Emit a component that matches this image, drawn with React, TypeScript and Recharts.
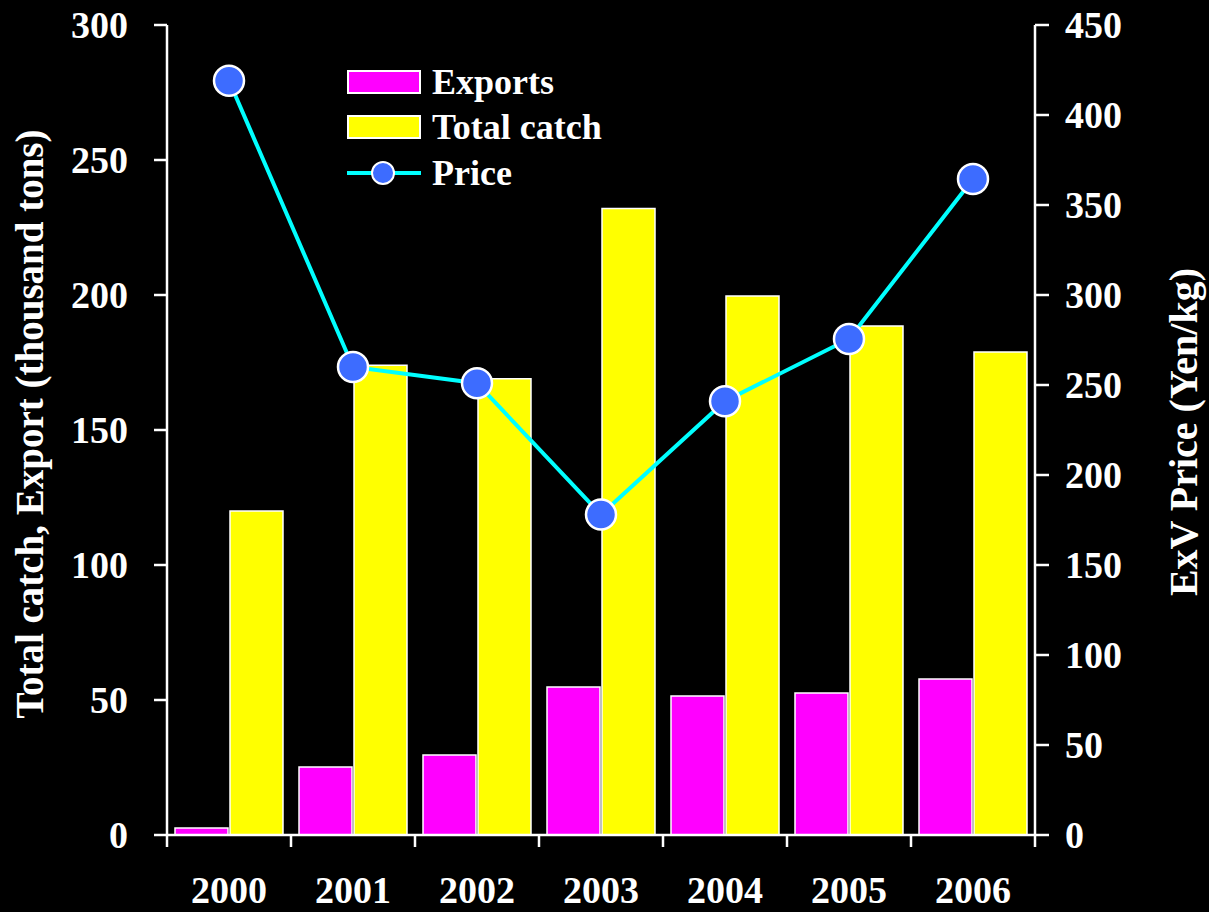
import React from 'react';
import { ComposedChart, Bar, Line, XAxis, YAxis, Legend } from 'recharts';

// Values
const years = ['2000', '2001', '2002', '2003', '2004', '2005', '2006'];
const exportsTons = [2.6, 25.2, 29.6, 54.8, 51.5, 52.6, 57.8];
const totalCatch = [120, 174, 169, 232, 199.6, 188.5, 178.9];
const priceYen = [419, 260, 251, 178, 241, 275.6, 364.4];

const leftTicks = [0, 50, 100, 150, 200, 250, 300];
const rightTicks = [0, 50, 100, 150, 200, 250, 300, 350, 400, 450];

const FONT = '"Liberation Serif", "Times New Roman", serif';
const MAGENTA = '#ff00ff';
const YELLOW = '#ffff00';
const CYAN = '#00ffff';
const DOT = '#3d6cff';

const chartData = years.map((year, i) => ({
  year,
  exports: exportsTons[i],
  total: totalCatch[i],
  price: priceYen[i],
}));

const tickStyle = { fill: '#ffffff', fontSize: 38, fontWeight: 700, fontFamily: FONT };

// x ticks sit on category boundaries, labels in the middle
function YearTick(props: any) {
  const { x, y, payload, index, visibleTicksCount } = props;
  const half = payload && payload.offset ? payload.offset : 62;
  const last = index === visibleTicksCount - 1;
  return (
    <g>
      <line x1={x - half} x2={x - half} y1={y - 41} y2={y - 29} stroke="#fff" strokeWidth={2.5} />
      {last && <line x1={x + half} x2={x + half} y1={y - 41} y2={y - 29} stroke="#fff" strokeWidth={2.5} />}
      <text x={x} y={y} dy="0.71em" textAnchor="middle" {...tickStyle}>
        {payload.value}
      </text>
    </g>
  );
}

function LeftTitle(props: any) {
  const vb = props.viewBox || { x: 0, y: 25, width: 167, height: 810 };
  const cy = vb.y + vb.height / 2 - 6;
  return (
    <text
      x={43}
      y={cy}
      transform={`rotate(-90, 43, ${cy})`}
      textAnchor="middle"
      fill="#fff"
      fontSize={39}
      fontWeight={700}
      fontFamily={FONT}
    >
      Total catch, Export (thousand tons)
    </text>
  );
}

function RightTitle(props: any) {
  const vb = props.viewBox || { x: 1035, y: 25, width: 174, height: 810 };
  const cx = vb.x + 162;
  const cy = vb.y + vb.height / 2 + 2;
  return (
    <text
      x={cx}
      y={cy}
      transform={`rotate(-90, ${cx}, ${cy})`}
      textAnchor="middle"
      fill="#fff"
      fontSize={40}
      fontWeight={700}
      fontFamily={FONT}
    >
      ExV Price (Yen/kg)
    </text>
  );
}

function LegendBox() {
  const row: React.CSSProperties = { display: 'flex', alignItems: 'center', height: 45.5 };
  const label: React.CSSProperties = {
    color: '#fff',
    fontSize: 36,
    fontWeight: 700,
    fontFamily: FONT,
    lineHeight: 1,
    marginLeft: 11,
    whiteSpace: 'nowrap',
  };
  return (
    <div>
      <div style={row}>
        <svg width={74} height={30}>
          <rect x={1} y={4} width={72} height={22} fill={MAGENTA} stroke="#fff" strokeWidth={2} />
        </svg>
        <span style={label}>Exports</span>
      </div>
      <div style={row}>
        <svg width={74} height={30}>
          <rect x={1} y={4} width={72} height={22} fill={YELLOW} stroke="#fff" strokeWidth={2} />
        </svg>
        <span style={label}>Total catch</span>
      </div>
      <div style={row}>
        <svg width={74} height={30}>
          <line x1={0} x2={74} y1={15} y2={15} stroke={CYAN} strokeWidth={4} />
          <circle cx={36} cy={15} r={11} fill={DOT} stroke="#fff" strokeWidth={2} />
        </svg>
        <span style={label}>Price</span>
      </div>
    </div>
  );
}

export default function App() {
  return (
    <div style={{ position: 'absolute', left: 0, top: 0, width: 1209, height: 912, background: '#000' }}>
      <ComposedChart
        width={1209}
        height={912}
        data={chartData}
        margin={{ top: 25, right: 0, bottom: 0, left: 0 }}
        barCategoryGap={8}
        barGap={2}
      >
        <XAxis
          dataKey="year"
          height={77}
          axisLine={{ stroke: '#fff', strokeWidth: 2.5 }}
          tickLine={false}
          tickSize={0}
          tickMargin={41}
          tick={<YearTick />}
          interval={0}
        />
        <YAxis
          yAxisId="left"
          width={167}
          domain={[0, 300]}
          ticks={leftTicks}
          interval={0}
          axisLine={{ stroke: '#fff', strokeWidth: 2.5 }}
          tickLine={{ stroke: '#fff', strokeWidth: 2.5 }}
          tickSize={13}
          tickMargin={26}
          tick={tickStyle}
          label={<LeftTitle />}
        />
        <YAxis
          yAxisId="right"
          orientation="right"
          width={174}
          domain={[0, 450]}
          ticks={rightTicks}
          interval={0}
          axisLine={{ stroke: '#fff', strokeWidth: 2.5 }}
          tickLine={{ stroke: '#fff', strokeWidth: 2.5 }}
          tickSize={14}
          tickMargin={16}
          tick={{ ...tickStyle, textAnchor: 'start' }}
          label={<RightTitle />}
        />
        <Legend
          layout="vertical"
          align="center"
          verticalAlign="middle"
          content={<LegendBox />}
          wrapperStyle={{ left: 347, top: 59, right: 'auto', bottom: 'auto', width: 'auto' }}
        />
        <Bar
          yAxisId="left"
          dataKey="exports"
          name="Exports"
          fill={MAGENTA}
          stroke="#fff"
          strokeWidth={1.5}
          isAnimationActive={false}
        />
        <Bar
          yAxisId="left"
          dataKey="total"
          name="Total catch"
          fill={YELLOW}
          stroke="#fff"
          strokeWidth={1.5}
          isAnimationActive={false}
        />
        <Line
          yAxisId="right"
          dataKey="price"
          name="Price"
          type="linear"
          stroke={CYAN}
          strokeWidth={4}
          dot={{ r: 15, fill: DOT, stroke: '#fff', strokeWidth: 2.5 }}
          activeDot={false}
          isAnimationActive={false}
        />
      </ComposedChart>
    </div>
  );
}
